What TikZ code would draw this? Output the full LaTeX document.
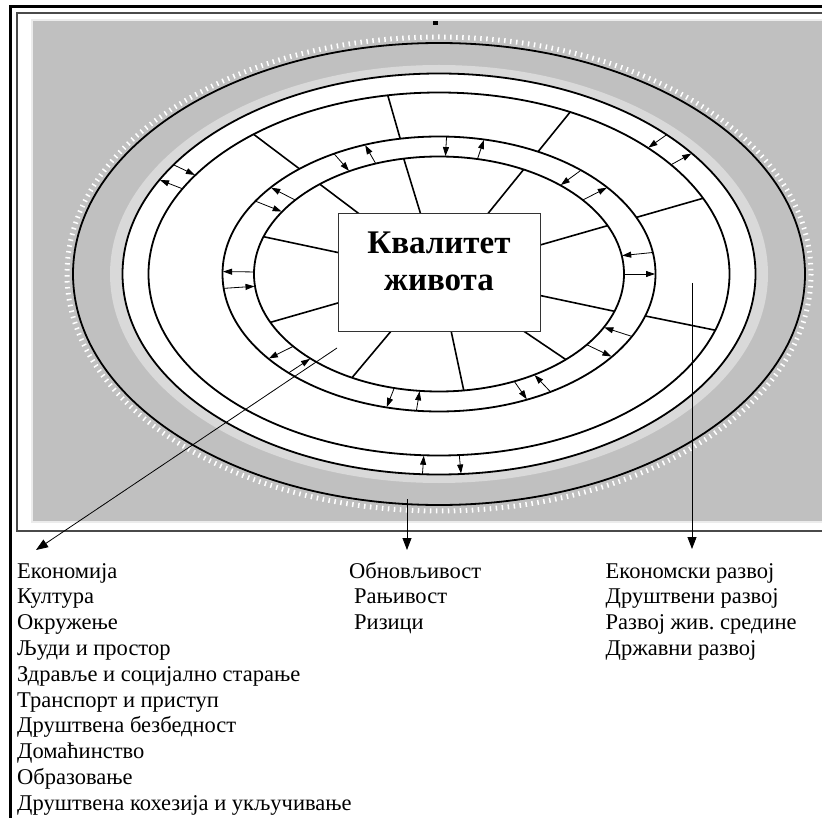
\documentclass[tikz,border=0pt]{standalone}
\usepackage{fontspec}
\setmainfont{Liberation Serif}
\usetikzlibrary{arrows.meta}
\definecolor{bggray}{HTML}{C0C0C0}
\definecolor{haze}{HTML}{D9D9D9}
\definecolor{framegray}{HTML}{4A4A4A}
\frenchspacing

\begin{document}
\begin{tikzpicture}[x=1pt, y=-1pt,
    ring/.style={line width=1.8pt},
    spoke/.style={line width=1.6pt},
    flow/.style={-{Triangle[length=9pt,width=6pt]}, line width=0.8pt, shorten >=0.5pt},
    ptr/.style={-{Triangle[length=12pt,width=9pt]}, line width=0.8pt},
    qbox/.style={draw=black!80, line width=1pt, fill=white, minimum width=202, minimum height=118, inner sep=0pt},
    qtitle/.style={font=\fontsize{33}{37}\selectfont\bfseries, align=center, inner sep=0pt},
    item/.style={font=\fontsize{22.5}{25.8}\selectfont, anchor=base west, inner sep=0pt}]
  \useasboundingbox (0,0) rectangle (822,818);
  \fill[white] (0,0) rectangle (822,818);
  % frame and background
  \draw[line width=3pt] (10,818) -- (10,7) -- (822,7);
  \draw[framegray, line width=1.8pt] (822,531) -- (17,531) -- (17,13) -- (822,13);
  \draw[fill=bggray, draw=white!85!gray, line width=1.2pt] (32,20) rectangle (823,522);
  \fill (433,21) rectangle (438,25);
  % rings
  \draw[white, line width=5pt, dash pattern=on 1.5pt off 4.5pt] (439,274) ellipse [x radius=372, y radius=237];
  \fill[haze] (439,274) ellipse [x radius=329, y radius=209];
  \draw[ring] (439,274) ellipse [x radius=366, y radius=231];
  \draw[ring, fill=white] (439,274) ellipse [x radius=316.5, y radius=200.5];
  \begin{scope}
    \clip (439,274) ellipse [x radius=290.5, y radius=181.5];
    \foreach \a in {-143,-106,-51,-16,11.5}
      \draw[spoke] (439,274) -- ++(\a:400);
  \end{scope}
  \fill[white] (439,274) ellipse [x radius=216.5, y radius=137.5];
  \draw[ring] (439,274) ellipse [x radius=290.5, y radius=181.5];
  \draw[ring] (439,274) ellipse [x radius=216.5, y radius=137.5];
  \draw[ring] (439,274) ellipse [x radius=185, y radius=117.5];
  \begin{scope}
    \clip (439,274) ellipse [x radius=185, y radius=117.5];
    \foreach \a in {-143,-107,-51,-16,12,34,78,130,164,-168}
      \draw[spoke] (439,274) -- ++(\a:400);
  \end{scope}
  \node[qbox] (qol) at (439,273) {};
  \node[qtitle] (qoltitle) at (439,261.5) {Квалитет\\живота};
  % exchange arrows
  \foreach \tin/\tout in {-88/-78,-119/-110,-148/-141,174/181,134/142,96/104,59/66,27/37,-9/0,-49/-39} {
    \draw[flow] ({439+216.5*cos(\tin)},{274+137.5*sin(\tin)}) -- ({439+185*cos(\tin)},{274+117.5*sin(\tin)});
    \draw[flow] ({439+185*cos(\tout)},{274+117.5*sin(\tout)}) -- ({439+216.5*cos(\tout)},{274+137.5*sin(\tout)});
  }
  \foreach \tin/\tout in {-147/-152,-44/-37,93/86} {
    \draw[flow] ({439+316.5*cos(\tin)},{274+200.5*sin(\tin)}) -- ({439+290.5*cos(\tin)},{274+181.5*sin(\tin)});
    \draw[flow] ({439+290.5*cos(\tout)},{274+181.5*sin(\tout)}) -- ({439+316.5*cos(\tout)},{274+200.5*sin(\tout)});
  }
  % lists
  \foreach \t [count=\i from 0] in {Економија,Култура,Окружење,Људи и простор,Здравље и социјално старање,Транспорт и приступ,Друштвена безбедност,Домаћинство,Образовање,Друштвена кохезија и укључивање}
    \node[item] (dim\i) at (17,{578+25.8*\i}) {\t};
  \node[item] (risk0) at (349,578) {Обновљивост};
  \node[item] (risk1) at (354,603.8) {Рањивост};
  \node[item] (risk2) at (354,629.6) {Ризици};
  \foreach \t [count=\i from 0] in {Економски развој,Друштвени развој,Развој жив. средине,Државни развој}
    \node[item] (dev\i) at (605.5,{578+25.8*\i}) {\t};
  % pointers
  \coordinate (dimsrc) at (337,348);
  \coordinate (dimtip) at (36,550);
  \coordinate (risksrc) at (407,499);
  \coordinate (risktip) at (407,550);
  \coordinate (devsrc) at (692,283);
  \coordinate (devtip) at (692,549);
  \draw[ptr] (dimsrc) -- (dimtip);
  \draw[ptr] (risksrc) -- (risktip);
  \draw[ptr] (devsrc) -- (devtip);
\end{tikzpicture}
\end{document}
